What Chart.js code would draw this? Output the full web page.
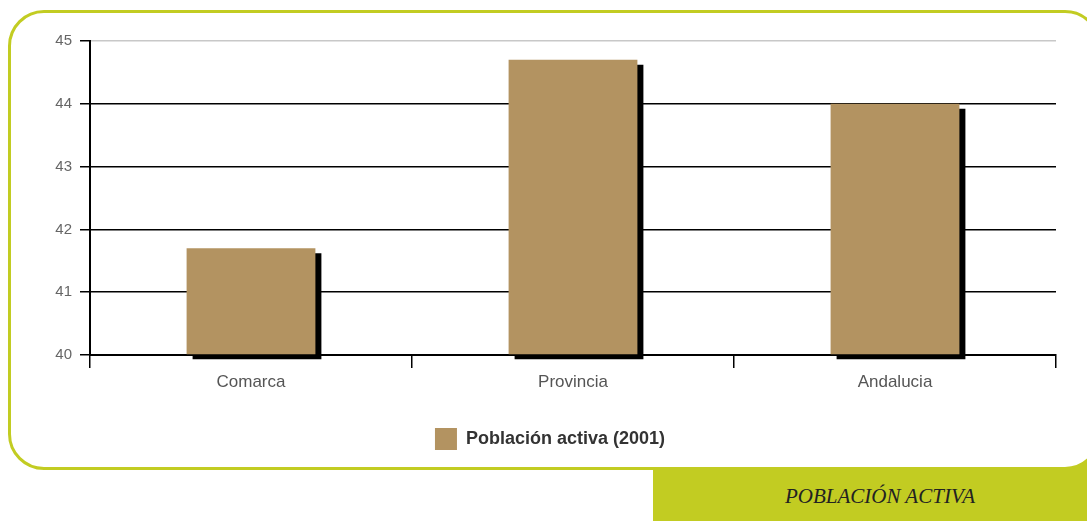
<!DOCTYPE html>
<html>
<head>
<meta charset="utf-8">
<script src="https://cdn.jsdelivr.net/npm/chart.js@4"></script>
<style>
  html, body { margin: 0; padding: 0; background: #fff; width: 1087px; height: 521px; overflow: hidden; position: relative; }
  #greenBox { position: absolute; left: 653px; top: 430px; width: 434px; height: 91px; background: #c2cc22; z-index: 0; }
  #frame { position: absolute; left: 8px; top: 10px; width: 1093px; height: 460px; box-sizing: border-box; border: 3px solid #c2cc22; border-radius: 36px; background: #fff; z-index: 1; }
  #title { position: absolute; left: 673px; top: 471px; width: 414px; height: 51px; line-height: 51px; text-align: center; z-index: 2;
           font-family: "Liberation Serif", "DejaVu Serif", serif; font-style: italic; font-size: 21px; color: #222; }
  #wrap { position: absolute; left: 0; top: 0; width: 1087px; height: 466px; z-index: 3; }
</style>
</head>
<body>
<div id="greenBox"></div>
<div id="frame"></div>
<div id="title">POBLACIÓN ACTIVA</div>
<div id="wrap"><canvas id="c" width="1087" height="466"></canvas></div>
<script>
const categories = ["Comarca", "Provincia", "Andalucia"];
const seriesLabel = "Población activa (2001)";
const seriesValues = [41.7, 44.7, 44.0];
const yTicks = [40, 41, 42, 43, 44, 45];
const axisMin = 40;
const axisMax = 45;

const shadowPlugin = {
  id: 'barShadow',
  beforeDatasetsDraw(chart) {
    const ctx = chart.ctx;
    ctx.save();
    ctx.shadowColor = '#000';
    ctx.shadowBlur = 0;
    ctx.shadowOffsetX = 6;
    ctx.shadowOffsetY = 5;
  },
  afterDatasetsDraw(chart) {
    chart.ctx.restore();
  }
};

new Chart(document.getElementById('c'), {
  type: 'bar',
  data: {
    labels: categories,
    datasets: [{
      label: seriesLabel,
      data: seriesValues,
      base: axisMin,
      backgroundColor: '#b39361',
      borderWidth: 0,
      barPercentage: 0.8,
      categoryPercentage: 0.5,
      clip: false
    }]
  },
  options: {
    responsive: false,
    animation: false,
    devicePixelRatio: 1,
    layout: { padding: { left: 44, right: 31, top: 41, bottom: 6 } },
    plugins: {
      tooltip: { enabled: false },
      legend: {
        position: 'bottom',
        labels: {
          boxWidth: 22, boxHeight: 22, padding: 10,
          color: '#333',
          font: { family: 'Arial, "Liberation Sans", sans-serif', size: 18, weight: '600' }
        }
      }
    },
    scales: {
      x: {
        offset: true,
        grid: {
          offset: true,
          drawOnChartArea: true,
          color: (c) => (c.index === 3 ? '#c8c8c8' : 'rgba(0,0,0,0)'),
          tickColor: '#000',
          tickLength: 13,
          lineWidth: 1.5
        },
        border: { display: true, color: '#000', width: 2 },
        ticks: {
          color: '#555',
          padding: 4,
          font: { family: 'Arial, "Liberation Sans", sans-serif', size: 17 }
        },
        afterFit(scale) { scale.height = 63; }
      },
      y: {
        min: axisMin,
        max: axisMax,
        afterBuildTicks(scale) { scale.ticks = yTicks.map(v => ({ value: v })); },
        afterFit(scale) { scale.width = 46; },
        grid: {
          color: (c) => (c.tick && c.tick.value === 45 ? '#c8c8c8' : '#000'),
          tickColor: '#000',
          tickLength: 10,
          lineWidth: 1.5
        },
        border: { display: true, color: '#000', width: 2 },
        ticks: {
          color: '#666',
          padding: 8,
          font: { family: 'Arial, "Liberation Sans", sans-serif', size: 15 }
        }
      }
    }
  },
  plugins: [shadowPlugin]
});
</script>
</body>
</html>
